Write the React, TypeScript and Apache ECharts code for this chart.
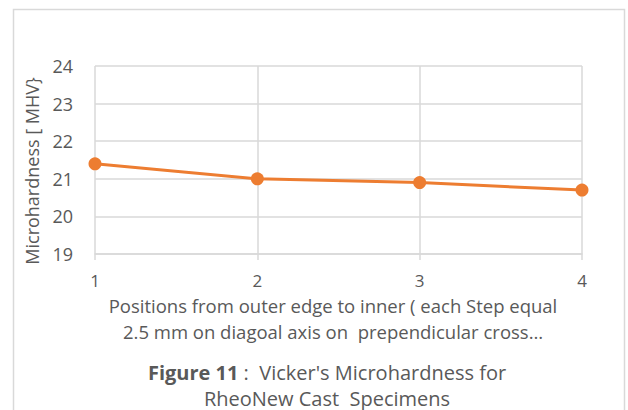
import React, { useEffect, useRef } from "react";
import * as echarts from "echarts";

const positions = [1, 2, 3, 4];
const hardness = [21.4, 21.0, 20.9, 20.7];
const yTitle = "Microhardness [ MHV}";
const xTitleLines = [
  "Positions from outer edge to inner ( each Step equal",
  "2.5 mm on diagoal axis on  prependicular cross…",
];
const captionBold = "Figure 11";
const captionRest = " :  Vicker's Microhardness for";
const captionLine2 = "RheoNew Cast  Specimens";

const FONT = "Open Sans";
const TXT = "#595959";
const GRID = "#d9d9d9";

export default function App() {
  const ref = useRef<HTMLDivElement>(null);
  useEffect(() => {
    if (!ref.current) return;
    const chart = echarts.init(ref.current, undefined, { renderer: "svg" });
    chart.setOption({
      animation: false,
      backgroundColor: "#ffffff",
      textStyle: { fontFamily: FONT },
      grid: { left: 95, right: 46, top: 66, bottom: 156 },
      xAxis: {
        type: "value",
        min: 1,
        max: 4,
        interval: 1,
        axisLine: { show: true, lineStyle: { color: GRID, width: 1.5 } },
        axisTick: { show: true, length: 6, lineStyle: { color: GRID, width: 1.5 } },
        splitLine: { show: true, lineStyle: { color: GRID, width: 1.5 } },
        axisLabel: { color: TXT, fontSize: 17, lineHeight: 15, fontFamily: FONT, margin: 19 },
      },
      yAxis: {
        type: "value",
        min: 19,
        max: 24,
        interval: 1,
        axisLine: { show: false },
        axisTick: { show: false },
        splitLine: { show: true, lineStyle: { color: GRID, width: 1.5 } },
        axisLabel: { color: TXT, fontSize: 18, fontFamily: FONT, margin: 22 },
      },
      series: [
        {
          type: "line",
          data: positions.map((p, i) => [p, hardness[i]]),
          symbol: "circle",
          symbolSize: 13,
          lineStyle: { color: "#ED7D31", width: 3 },
          itemStyle: { color: "#ED7D31" },
        },
      ],
      graphic: [
        {
          type: "rect",
          shape: { x: 13.5, y: 9.5, width: 611, height: 420 },
          style: { fill: "none", stroke: GRID, lineWidth: 1.5 },
          silent: true,
        },
        {
          type: "text",
          x: 32,
          y: 171,
          rotation: Math.PI / 2,
          style: {
            text: yTitle,
            fill: TXT,
            font: `18px "${FONT}"`,
            align: "center",
            verticalAlign: "middle",
          },
        },
        {
          type: "text",
          x: 333,
          y: 305,
          style: {
            text: xTitleLines[0],
            fill: TXT,
            font: `18.5px "${FONT}"`,
            lineHeight: 18,
            align: "center",
            verticalAlign: "middle",
          },
        },
        {
          type: "text",
          x: 333,
          y: 331,
          style: {
            text: xTitleLines[1],
            fill: TXT,
            font: `18.5px "${FONT}"`,
            lineHeight: 18,
            align: "center",
            verticalAlign: "middle",
          },
        },
        {
          type: "text",
          x: 327,
          y: 372,
          style: {
            text: `{b|${captionBold}}{r|${captionRest}}`,
            align: "center",
            verticalAlign: "middle",
            rich: {
              b: { fontFamily: FONT, fontSize: 20, lineHeight: 20, fontWeight: "bold", fill: TXT, color: TXT },
              r: { fontFamily: FONT, fontSize: 20, lineHeight: 20, fill: TXT, color: TXT },
            },
          },
        },
        {
          type: "text",
          x: 327,
          y: 398,
          style: {
            text: captionLine2,
            fill: TXT,
            font: `20px "${FONT}"`,
            lineHeight: 18,
            align: "center",
            verticalAlign: "middle",
          },
        },
      ],
    });
    return () => chart.dispose();
  }, []);
  return (
    <div
      ref={ref}
      style={{ position: "fixed", left: 0, top: 0, width: 628, height: 410 }}
    />
  );
}
